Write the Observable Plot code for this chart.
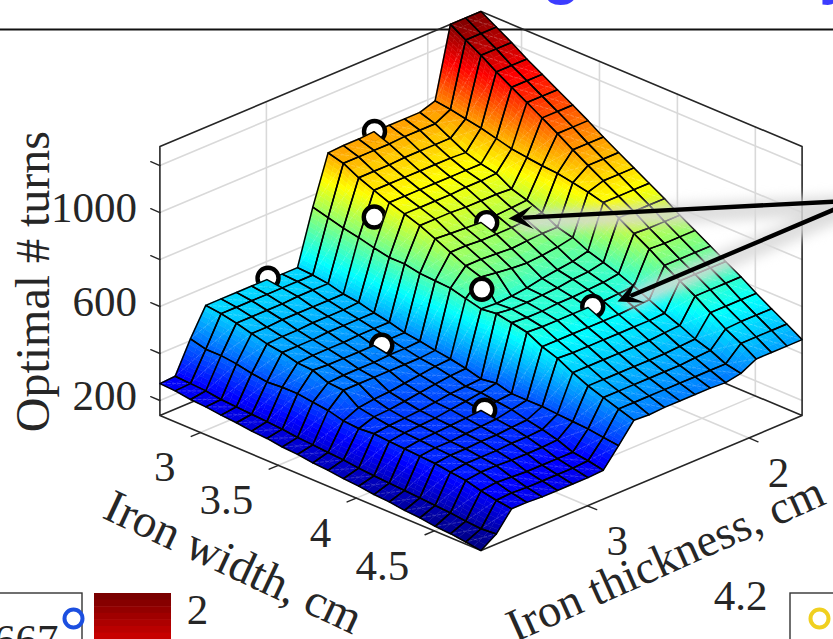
<!DOCTYPE html>
<html>
<head>
<meta charset="utf-8">
<script src="https://cdn.jsdelivr.net/npm/d3@7"></script>
<script src="https://cdn.jsdelivr.net/npm/@observablehq/plot@0.6"></script>
<style>html,body{margin:0;padding:0;background:#fff;overflow:hidden}</style>
</head>
<body>
<div id="chart"></div>
<script>
// ---- data ----
const ironWidth = [2.74,2.84,2.94,3.04,3.14,3.23,3.33,3.43,3.53,3.63,3.72,3.82,3.92,4.02,4.12,4.21,4.31,4.41,4.51,4.61,4.70,4.80];
const ironThickness = [1.67,1.76,1.86,1.95,2.05,2.14,2.24,2.33,2.43,2.52,2.62,2.71,2.81,2.90,2.99,3.09,3.18,3.28,3.37,3.47,3.56,3.66];
// optimal number of turns: one row per iron width, one column per iron thickness
const turns = [
[1281,1281,1281,983,961,961,961,961,957,957,953,749,519,519,523,523,523,523,523,408,276,272],
[1242,1242,1242,974,940,940,940,936,936,936,936,732,515,515,515,515,515,515,515,391,272,268],
[1204,1204,1204,961,906,906,906,906,902,902,902,715,506,506,506,502,502,502,502,391,268,259],
[1161,1161,1161,949,872,876,876,876,876,876,876,702,489,489,489,489,489,485,485,383,259,255],
[1123,1123,1123,932,851,851,851,851,851,851,851,685,481,476,476,476,472,472,468,370,255,247],
[1085,1085,1085,915,838,834,834,830,830,830,830,672,464,464,464,464,459,459,459,361,251,242],
[1047,1047,1047,906,800,804,804,804,808,808,808,672,451,451,451,447,447,447,442,366,247,234],
[1008,1008,1008,898,779,774,770,766,770,774,779,659,434,434,434,434,434,434,438,366,242,230],
[966,966,966,893,753,749,744,744,744,749,749,655,425,421,421,417,417,417,413,357,234,221],
[927,927,927,881,719,719,715,710,715,719,719,651,413,408,408,408,408,408,408,349,230,217],
[889,889,889,868,702,689,681,676,681,689,698,634,404,400,391,383,374,370,361,332,225,208],
[851,851,851,851,672,655,647,638,625,617,613,617,391,387,379,370,361,353,349,327,221,204],
[813,813,813,813,651,638,634,625,621,617,617,625,374,370,366,357,349,344,340,332,213,196],
[770,770,770,774,630,621,617,613,613,608,608,613,383,370,361,353,344,340,336,327,208,191],
[732,732,732,736,604,600,596,596,596,596,596,600,366,361,349,344,340,336,332,323,204,183],
[693,693,693,693,574,570,566,566,566,566,566,566,366,353,340,336,332,327,327,319,200,179],
[655,655,655,655,544,540,540,540,540,540,540,544,366,336,332,327,327,323,323,315,196,170],
[617,617,617,617,519,515,510,510,510,510,510,510,361,323,319,319,315,315,315,306,191,166],
[574,574,574,574,489,485,481,481,481,481,481,481,357,306,302,302,302,306,306,298,187,157],
[536,536,536,532,468,464,459,459,459,459,459,459,353,281,281,281,281,285,289,281,179,153],
[498,498,498,498,438,438,438,438,438,438,438,438,344,272,268,268,268,268,272,268,174,145],
[459,459,459,459,425,413,417,417,417,417,413,417,336,259,255,255,255,255,259,259,179,136]
];
const widthTicks = [3,3.5,4,4.5];
const thicknessTicks = [2,3];
const turnTicks = [200,400,600,800,1000,1200];
const turnLabels = [200,600,1000];
// markers: iron width, iron thickness, turns, paint depth in the surface
const markerWidth = [2.74,2.74,3.08,3.46,3.47,3.77,4.13,4.14];
const markerThickness = [2.33,2.99,2.66,2.33,2.99,2.66,2.99,2.33];
const markerTurns = [961,527,787,774,445,672,353,607];
const markerDepth = [7,14,14,14,21,99,28,21];

// ---- oblique view of the box ----
const turnsDomain = [136,1281];
const [wMin,wMax] = [ironWidth[0],ironWidth[21]], [thMin,thMax] = [ironThickness[0],ironThickness[21]], [tMin,tMax] = turnsDomain;
const iOf = d3.scaleLinear([wMin,wMax],[0,21]);
const jOf = d3.scaleLinear([thMin,thMax],[0,21]);
const zOf = d3.scaleLinear(turnsDomain,[0,269]);
const view = (i,j,t) => [480.5+(i-j)*15.29, 280+(i+j)*6.43-zOf(t)];
const project = (w,th,t) => view(iOf(w),jOf(th),t);

function jet(v){
  const c = x => Math.max(0,Math.min(1,1.5-Math.abs(4*v-x)));
  return `rgb(${Math.round(255*c(3))},${Math.round(255*c(2))},${Math.round(255*c(1))})`;
}

// ---- surface facets ----
const facets = [], outlines = [], seams = [];
for (let i=0;i<21;i++) for (let j=0;j<21;j++){
  const a=turns[i][j], b=turns[i+1][j], c=turns[i+1][j+1], d=turns[i][j+1];
  const depth=i+j;
  const val=(u,v)=>(1-u)*(1-v)*a+u*(1-v)*b+u*v*c+(1-u)*v*d;
  const pt=(u,v)=>view(i+u,j+v,val(u,v));
  const spanU=Math.max(Math.abs(b-a),Math.abs(c-d)), spanV=Math.max(Math.abs(d-a),Math.abs(c-b));
  const nu=Math.min(16,Math.max(2,Math.ceil(spanU/18))), nv=Math.min(16,Math.max(2,Math.ceil(spanV/18)));
  for (let p=0;p<nu;p++) for (let q=0;q<nv;q++){
    const u0=p/nu,u1=(p+1)/nu,v0=q/nv,v1=(q+1)/nv;
    facets.push({depth,t:val((u0+u1)/2,(v0+v1)/2),geometry:{type:"Polygon",coordinates:[[pt(u0,v0),pt(u1,v0),pt(u1,v1),pt(u0,v1),pt(u0,v0)]]}});
  }
  outlines.push({depth,geometry:{type:"Polygon",coordinates:[[view(i,j,a),view(i+1,j,b),view(i+1,j+1,c),view(i,j+1,d),view(i,j,a)]]}});
  seams.push({depth,geometry:{type:"LineString",coordinates:[view(i+1,j,b),view(i,j+1,d)]}});
}

// ---- box, walls, ticks ----
const seg=(list,id,...ps)=>ps.forEach(p=>list.push({x:p[0],y:p[1],id}));
const grid=[], frame=[], ticks=[];
let n=0;
for(const t of turnTicks){
  seg(grid,n++,project(wMin,thMax,t),project(wMin,thMin,t),project(wMax,thMin,t));
  seg(ticks,n++,project(wMin,thMax,t),view(-0.6,21,t));
}
for(const w of widthTicks){
  seg(grid,n++,project(w,thMin,tMax),project(w,thMin,tMin),project(w,thMax,tMin));
  seg(ticks,n++,project(w,thMax,tMin),view(iOf(w),21.6,tMin));
}
for(const th of thicknessTicks){
  seg(grid,n++,project(wMin,th,tMax),project(wMin,th,tMin),project(wMax,th,tMin));
  seg(ticks,n++,project(wMax,th,tMin),view(21.6,jOf(th),tMin));
}
seg(frame,n++,project(wMin,thMax,tMin),project(wMin,thMax,tMax),project(wMin,thMin,tMax),project(wMax,thMin,tMax),project(wMax,thMin,tMin),project(wMax,thMax,tMin),project(wMin,thMax,tMin),project(wMin,thMin,tMin),project(wMax,thMin,tMin));

const serif="Liberation Serif", ink="#262626";
const xy=(fn)=>({x:d=>fn(d)[0],y:d=>fn(d)[1]});

// ---- callout arrows ----
const arrows=[{tail:[836,201],tip:[508,218]},{tail:[836,208],tip:[617,301]}];
const arrowHead=({tail,tip})=>{
  const dx=tail[0]-tip[0],dy=tail[1]-tip[1],l=Math.hypot(dx,dy),ux=dx/l,uy=dy/l,px=-uy,py=ux;
  return {type:"Polygon",coordinates:[[tip,[tip[0]+ux*25+px*12,tip[1]+uy*25+py*12],[tip[0]+ux*13,tip[1]+uy*13],[tip[0]+ux*25-px*12,tip[1]+uy*25-py*12],tip]]};
};
const arrowLines=arrows.flatMap((a,id)=>{const dx=a.tail[0]-a.tip[0],dy=a.tail[1]-a.tip[1],l=Math.hypot(dx,dy);return [{x:a.tail[0],y:a.tail[1],id},{x:a.tip[0]+dx/l*16,y:a.tip[1]+dy/l*16,id}];});

// ---- surface layers with the markers between them ----
const order=d3.range(markerDepth.length).sort((a,b)=>markerDepth[a]-markerDepth[b]);
const surfaceLayer=(lo,hi)=>{
  const inRange=d=>d.depth>=lo&&d.depth<hi;
  return [
    Plot.geo(facets.filter(inRange),{geometry:d=>d.geometry,fill:d=>d.t,stroke:d=>d.t,strokeWidth:0.5}),
    Plot.geo(seams.filter(inRange),{geometry:d=>d.geometry,stroke:"#fff",strokeOpacity:0.35,strokeWidth:0.6,strokeDasharray:"3 2",fill:"none"}),
    Plot.geo(outlines.filter(inRange),{geometry:d=>d.geometry,stroke:"#000",strokeWidth:1.5,fill:"none",strokeLinejoin:"round"})
  ];
};
const surfaceMarks=[];
let lo=-1;
for(const m of order){
  const hi=markerDepth[m];
  surfaceMarks.push(...surfaceLayer(lo,hi));
  const pos=project(markerWidth[m],markerThickness[m],markerTurns[m]);
  surfaceMarks.push(Plot.dot([pos],{x:d=>d[0],y:d=>d[1],r:10.5,fill:"#fff",stroke:"#000",strokeWidth:4.4}));
  lo=hi;
}
surfaceMarks.push(...surfaceLayer(lo,1e9));

// ---- clipped neighbours of the figure ----
const barShades=["#7a0000","#860000","#930000","#a00000","#ad0000","#ba0000","#c70000"];

const plot=Plot.plot({
  width:833,height:639,
  margin:0,
  style:{background:"#fff"},
  x:{domain:[0,833],range:[0,833],axis:null},
  y:{domain:[0,639],range:[0,639],axis:null},
  color:{domain:turnsDomain,interpolate:jet},
  marks:[
    Plot.line(grid,{x:"x",y:"y",z:"id",stroke:"#d9d9d9",strokeWidth:1.6}),
    Plot.ruleY([29],{stroke:"#111",strokeWidth:1.8}),
    Plot.line(frame,{x:"x",y:"y",z:"id",stroke:ink,strokeWidth:1.6}),
    Plot.line(ticks,{x:"x",y:"y",z:"id",stroke:ink,strokeWidth:1.4}),
    ...surfaceMarks,
    Plot.line(arrowLines,{x:"x",y:"y",z:"id",stroke:"#d8d8d8",strokeWidth:20,strokeOpacity:0.85,imageFilter:"blur(6px)",dy:4}),
    Plot.line(arrowLines,{x:"x",y:"y",z:"id",stroke:"#000",strokeWidth:4.4}),
    Plot.geo(arrows,{geometry:arrowHead,fill:"#000",stroke:"none"}),
    // axis text
    Plot.text(turnLabels,{...xy(t=>project(wMin,thMax,t)),text:d=>String(d),fontFamily:serif,fontSize:43,fill:ink,textAnchor:"end",dx:-23,dy:-4}),
    Plot.text(widthTicks,{...xy(w=>project(w,thMax,tMin)),text:d=>String(d),fontFamily:serif,fontSize:43,fill:ink,textAnchor:"end",dx:-25,dy:35}),
    Plot.text(thicknessTicks,{...xy(th=>project(wMax,th,tMin)),text:d=>String(d),fontFamily:serif,fontSize:43,fill:ink,textAnchor:"start",dx:19,dy:35}),
    Plot.text(["Optimal # turns"],{...xy(()=>project(wMin,thMax,706)),fontFamily:serif,fontSize:48,fill:ink,rotate:-90,dx:-126}),
    Plot.text(["Iron width, cm"],{...xy(()=>view(4.8,21,tMin)),fontFamily:serif,fontSize:47,fill:ink,rotate:25,dy:116}),
    Plot.text(["Iron thickness, cm"],{...xy(()=>view(21,9,tMin)),fontFamily:serif,fontSize:46.5,fill:ink,rotate:-24,dx:1,dy:86}),
    // neighbours cut by the crop
    Plot.text(["g"],{x:()=>561,y:()=>-28,fontFamily:"Liberation Sans",fontWeight:"bold",fontSize:62,fill:"#3c3cff"}),
    Plot.text(["y"],{x:()=>836,y:()=>-28,fontFamily:"Liberation Sans",fontWeight:"bold",fontSize:62,fill:"#3c3cff"}),
    Plot.rect([0],{x1:()=>-6,x2:()=>82,y1:()=>593,y2:()=>660,fill:"#fff",stroke:"#333",strokeWidth:1.4}),
    Plot.rect(barShades,{x1:()=>94,x2:()=>171,y1:(d,i)=>593+i*6.6,y2:(d,i)=>593+(i+1)*6.6+0.5,fill:d=>d}),
    Plot.rect([0],{x1:()=>790,x2:()=>850,y1:()=>593,y2:()=>660,fill:"#fff",stroke:"#333",strokeWidth:1.4}),
    Plot.text(["667"],{x:()=>58,y:()=>640,fontFamily:serif,fontSize:43,fill:ink,textAnchor:"end"}),
    Plot.dot([0],{x:()=>73,y:()=>618,r:9,fill:"#fff",stroke:"#1c4fe0",strokeWidth:4}),
    Plot.dot([0],{x:()=>819,y:()=>618,r:9,fill:"#fff",stroke:"#f0d020",strokeWidth:4}),
    Plot.text(["2"],{x:()=>197,y:()=>610,fontFamily:serif,fontSize:43,fill:ink}),
    Plot.text(["4.2"],{x:()=>740,y:()=>596,fontFamily:serif,fontSize:43,fill:ink})
  ]
});
document.getElementById("chart").appendChild(plot);
</script>
</body>
</html>
